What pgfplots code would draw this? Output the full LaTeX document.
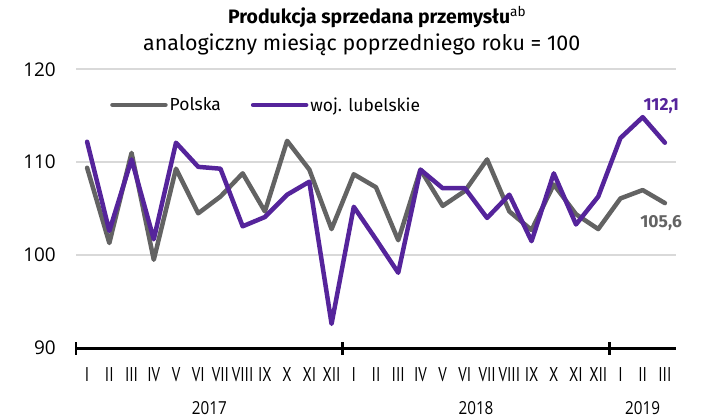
\documentclass[border=0pt]{standalone}
\usepackage{pgfplots}
\pgfplotsset{compat=1.18}
\usepackage{fontspec}
\setmainfont{Fira Sans}
\newfontfamily\tickfont{Open Sans}
\newfontfamily\romfont{PT Sans}
\definecolor{pgray}{HTML}{636363}
\definecolor{ppurple}{HTML}{55249B}
\definecolor{gridc}{HTML}{D9D9D9}
\newcommand\R[1]{\scalebox{0.75}[1]{#1}}

\pgfplotstableread{
x  pol   lub
0  109.4 112.2
1  101.3 102.6
2  111.0 110.3
3  99.5  101.7
4  109.3 112.1
5  104.5 109.5
6  106.3 109.3
7  108.8 103.1
8  104.7 104.1
9  112.3 106.5
10 109.2 107.9
11 102.8 92.6
12 108.7 105.2
13 107.3 101.7
14 101.6 98.1
15 109.2 109.2
16 105.3 107.2
17 106.9 107.2
18 110.3 104.0
19 104.7 106.5
20 102.7 101.5
21 107.6 108.8
22 104.4 103.3
23 102.8 106.3
24 106.1 112.6
25 107.0 114.85
26 105.6 112.1
}\data

\begin{document}
\begin{tikzpicture}[x=1bp,y=1bp]
\path[use as bounding box] (0,0) rectangle (706,418);
\node[anchor=base west, inner sep=0pt, font=\fontsize{19.5}{20}\selectfont] at (228,394) {\textbf{Produkcja sprzedana przemysłu}\textsuperscript{ab}};
\node[anchor=base west, inner sep=0pt, font=\fontsize{21.5}{22}\selectfont] at (143,368) {analogiczny miesiąc poprzedniego roku = 100};
\begin{axis}[
  at={(76bp,70bp)}, anchor=south west,
  scale only axis, width=600bp, height=278.7bp,
  xmin=-0.5, xmax=26.5, ymin=90, ymax=120,
  clip=false,
  separate axis lines,
  axis x line=bottom, axis y line=left,
  x axis line style={-, black, line width=3bp},
  y axis line style={draw=none},
  ytick={90,100,110,120},
  ymajorgrids, grid style={gridc, line width=1.6bp},
  yticklabel style={font=\tickfont\fontsize{19}{19}\selectfont, anchor=east, inner sep=0pt, xshift=-20bp},
  /pgf/number format/assume math mode=true,
  xtick={0,...,26},
  xticklabels={\R{I},\R{II},\R{III},\R{IV},\R{V},\R{VI},\R{VII},\R{VIII},\R{IX},\R{X},\R{XI},\R{XII},\R{I},\R{II},\R{III},\R{IV},\R{V},\R{VI},\R{VII},\R{VIII},\R{IX},\R{X},\R{XI},\R{XII},\R{I},\R{II},\R{III}},
  xticklabel style={font=\romfont\fontsize{20}{20}\selectfont, anchor=center, inner sep=0pt, yshift=-27bp},
  major tick length=0pt,
  extra x ticks={-0.5,11.5,23.5},
  extra x tick labels={},
  extra x tick style={major tick length=13bp, xtick align=center, tick style={black, line width=2.5bp}},
  legend columns=2,
  legend style={at={(rel axis cs:0.0567,0.872)}, anchor=west, draw=none, fill=none, inner sep=0pt,
    font=\fontsize{17.5}{17.5}\selectfont,
    /tikz/every even column/.append style={column sep=28bp}},
  legend image code/.code={\path (0bp,0bp) -- (53bp,0bp); \draw[#1, line width=4.5bp, line cap=round] (2.25bp,0bp) -- (50.75bp,0bp);},
  every axis plot/.append style={line width=4.5bp, line join=round, line cap=round, mark=none},
]
\addplot[pgray] table[x=x, y=pol] {\data};
\addlegendentry{Polska}
\addplot[ppurple] table[x=x, y=lub] {\data};
\addlegendentry{woj. lubelskie}
\node[font=\bfseries\fontsize{17.5}{17.5}\selectfont, text=ppurple] at (axis cs:25.84,116) {112,1};
\node[font=\bfseries\fontsize{17.5}{17.5}\selectfont, text=pgray] at (axis cs:25.83,103.48) {105,6};
\node[inner sep=0pt, font=\tickfont\fontsize{18}{18}\selectfont] at (axis cs:5.5,90) [yshift=-60bp] {\scalebox{0.85}[1]{2017}};
\node[inner sep=0pt, font=\tickfont\fontsize{18}{18}\selectfont] at (axis cs:17.5,90) [yshift=-60bp] {\scalebox{0.85}[1]{2018}};
\node[inner sep=0pt, font=\tickfont\fontsize{18}{18}\selectfont] at (axis cs:25,90) [yshift=-60bp] {\scalebox{0.85}[1]{2019}};
\end{axis}
\end{tikzpicture}
\end{document}
